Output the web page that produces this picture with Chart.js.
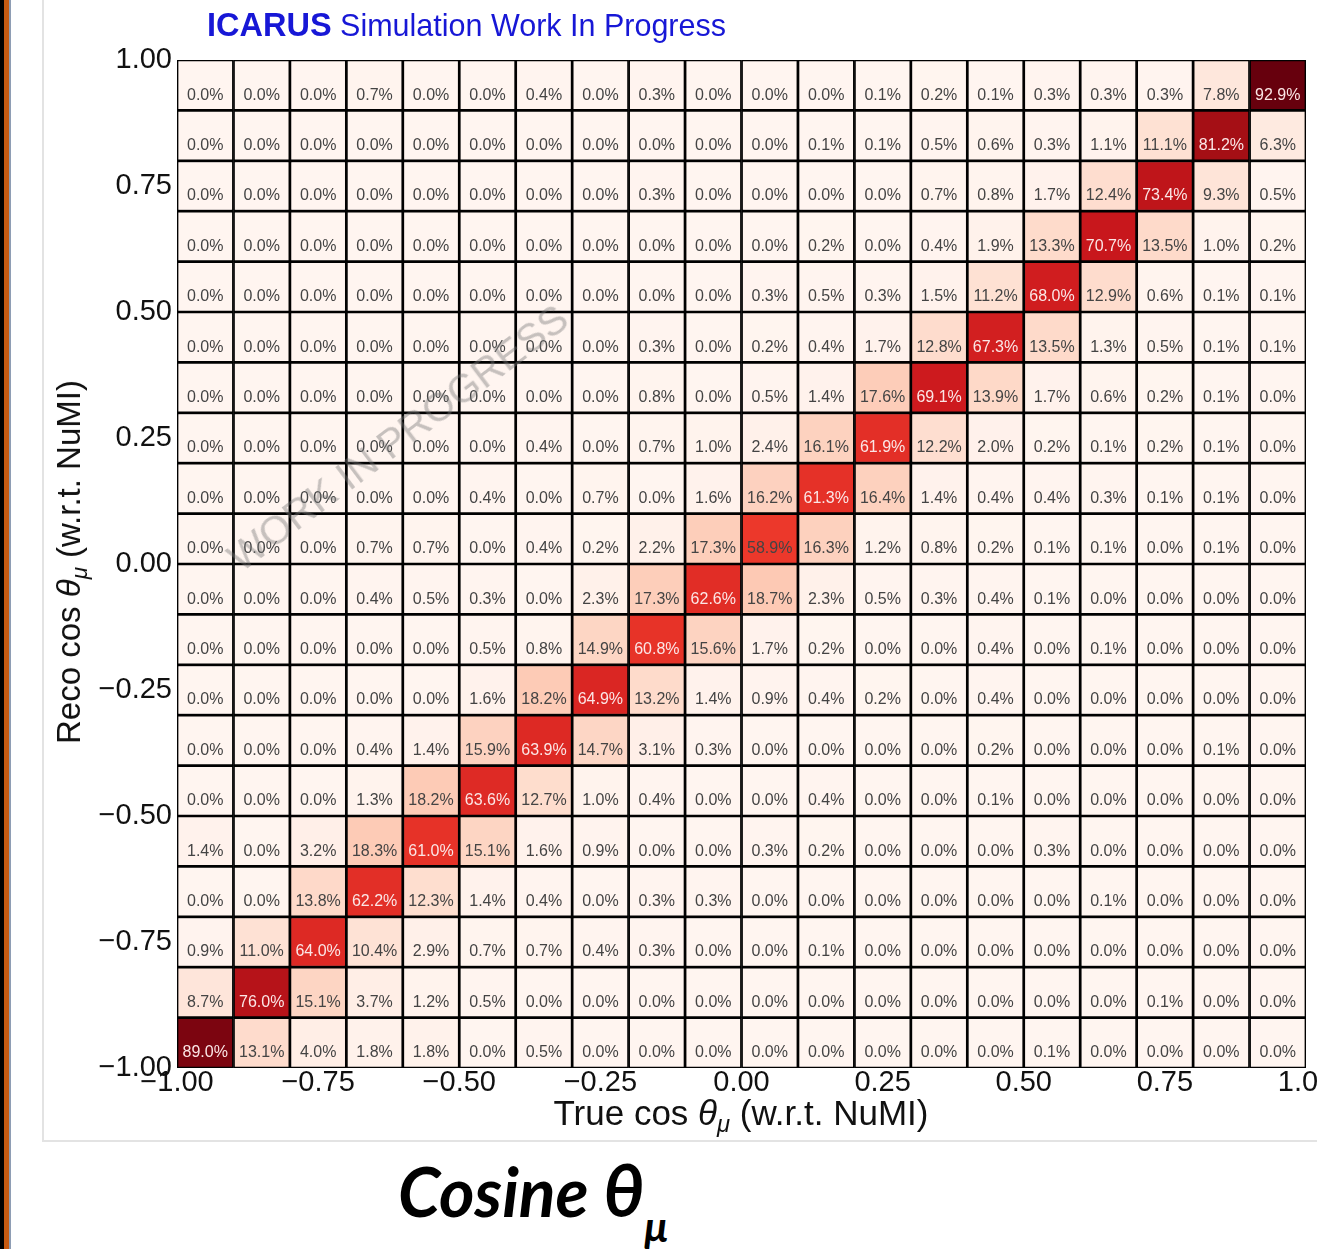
<!DOCTYPE html>
<html>
<head>
<meta charset="utf-8">
<script src="https://cdn.jsdelivr.net/npm/chart.js@4.4.1/dist/chart.umd.min.js"></script>
<style>
  html, body { margin: 0; padding: 0; background: #fff; width: 1317px; height: 1249px; overflow: hidden; }
  body { position: relative; font-family: 'Liberation Sans', Arial, sans-serif; }
  .edge { position: absolute; top: 0; height: 1249px; }
  #panel { position: absolute; left: 42px; top: -2px; width: 1290px; height: 1142px;
           border-left: 2px solid #e3e3e3; border-bottom: 2px solid #e3e3e3; }
  #wrap { position: absolute; left: 0; top: 0; width: 1317px; height: 1142px; }
  #title { position: absolute; left: 207px; top: 10px; font-size: 30.5px; line-height: 30px;
           color: #1717d6; white-space: nowrap; }
  #title b { font-weight: bold; font-size: 32.5px; }
  .axtitle { position: absolute; font-size: 35px; line-height: 34px; color: #111; white-space: nowrap; }
  .axtitle sub { font-size: 0.68em; vertical-align: -0.3em; line-height: 0; }
  #xtitle { left: 741px; top: 1096px; transform: translateX(-50%); }
  #ytitle { left: 69px; top: 562px; font-size: 33px; transform: translate(-50%, -50%) rotate(-90deg); }
  #watermark { position: absolute; left: 398px; top: 438px; font-size: 40px; color: rgba(120,120,120,0.42);
               white-space: nowrap; transform: translate(-50%, -50%) rotate(-37deg); }
  #caption { position: absolute; left: 398px; top: 1158px; font-family: Lato, 'Open Sans', sans-serif;
             font-weight: bold; font-style: italic; font-size: 68px; line-height: 62px; color: #000; white-space: nowrap; }
  #caption .th { font-size: 1.06em; }
  #caption sub { font-size: 0.62em; vertical-align: -0.6em; line-height: 0; }
</style>
</head>
<body>
<div class="edge" style="left:0;width:4px;background:#000"></div>
<div class="edge" style="left:4px;width:5px;background:#c55a11"></div>
<div class="edge" style="left:9px;width:2px;background:#8e9db4"></div>
<div id="panel"></div>
<div id="wrap"><canvas id="migration"></canvas></div>
<div id="title"><b>ICARUS</b> Simulation Work In Progress</div>
<div id="xtitle" class="axtitle">True cos <i>θ</i><sub><i>μ</i></sub> (w.r.t. NuMI)</div>
<div id="ytitle" class="axtitle">Reco cos <i>θ</i><sub><i>μ</i></sub> (w.r.t. NuMI)</div>
<div id="watermark">WORK IN PROGRESS</div>
<div id="caption">Cosine <span class="th">θ</span><sub>μ</sub></div>
<script>
// bin edges shared by true (x) and reco (y) cos theta
const binEdges = [-1.0, -0.9, -0.8, -0.7, -0.6, -0.5, -0.4, -0.3, -0.2, -0.1, 0.0,
                  0.1, 0.2, 0.3, 0.4, 0.5, 0.6, 0.7, 0.8, 0.9, 1.0];
const tickValues = [-1.0, -0.75, -0.5, -0.25, 0.0, 0.25, 0.5, 0.75, 1.0];

// migration percentages, one array per reco bin, columns = true bins (-1 -> 1)
const reco_p95 = [0.0, 0.0, 0.0, 0.7, 0.0, 0.0, 0.4, 0.0, 0.3, 0.0, 0.0, 0.0, 0.1, 0.2, 0.1, 0.3, 0.3, 0.3, 7.8, 92.9];
const reco_p85 = [0.0, 0.0, 0.0, 0.0, 0.0, 0.0, 0.0, 0.0, 0.0, 0.0, 0.0, 0.1, 0.1, 0.5, 0.6, 0.3, 1.1, 11.1, 81.2, 6.3];
const reco_p75 = [0.0, 0.0, 0.0, 0.0, 0.0, 0.0, 0.0, 0.0, 0.3, 0.0, 0.0, 0.0, 0.0, 0.7, 0.8, 1.7, 12.4, 73.4, 9.3, 0.5];
const reco_p65 = [0.0, 0.0, 0.0, 0.0, 0.0, 0.0, 0.0, 0.0, 0.0, 0.0, 0.0, 0.2, 0.0, 0.4, 1.9, 13.3, 70.7, 13.5, 1.0, 0.2];
const reco_p55 = [0.0, 0.0, 0.0, 0.0, 0.0, 0.0, 0.0, 0.0, 0.0, 0.0, 0.3, 0.5, 0.3, 1.5, 11.2, 68.0, 12.9, 0.6, 0.1, 0.1];
const reco_p45 = [0.0, 0.0, 0.0, 0.0, 0.0, 0.0, 0.0, 0.0, 0.3, 0.0, 0.2, 0.4, 1.7, 12.8, 67.3, 13.5, 1.3, 0.5, 0.1, 0.1];
const reco_p35 = [0.0, 0.0, 0.0, 0.0, 0.0, 0.0, 0.0, 0.0, 0.8, 0.0, 0.5, 1.4, 17.6, 69.1, 13.9, 1.7, 0.6, 0.2, 0.1, 0.0];
const reco_p25 = [0.0, 0.0, 0.0, 0.0, 0.0, 0.0, 0.4, 0.0, 0.7, 1.0, 2.4, 16.1, 61.9, 12.2, 2.0, 0.2, 0.1, 0.2, 0.1, 0.0];
const reco_p15 = [0.0, 0.0, 0.0, 0.0, 0.0, 0.4, 0.0, 0.7, 0.0, 1.6, 16.2, 61.3, 16.4, 1.4, 0.4, 0.4, 0.3, 0.1, 0.1, 0.0];
const reco_p05 = [0.0, 0.0, 0.0, 0.7, 0.7, 0.0, 0.4, 0.2, 2.2, 17.3, 58.9, 16.3, 1.2, 0.8, 0.2, 0.1, 0.1, 0.0, 0.1, 0.0];
const reco_m05 = [0.0, 0.0, 0.0, 0.4, 0.5, 0.3, 0.0, 2.3, 17.3, 62.6, 18.7, 2.3, 0.5, 0.3, 0.4, 0.1, 0.0, 0.0, 0.0, 0.0];
const reco_m15 = [0.0, 0.0, 0.0, 0.0, 0.0, 0.5, 0.8, 14.9, 60.8, 15.6, 1.7, 0.2, 0.0, 0.0, 0.4, 0.0, 0.1, 0.0, 0.0, 0.0];
const reco_m25 = [0.0, 0.0, 0.0, 0.0, 0.0, 1.6, 18.2, 64.9, 13.2, 1.4, 0.9, 0.4, 0.2, 0.0, 0.4, 0.0, 0.0, 0.0, 0.0, 0.0];
const reco_m35 = [0.0, 0.0, 0.0, 0.4, 1.4, 15.9, 63.9, 14.7, 3.1, 0.3, 0.0, 0.0, 0.0, 0.0, 0.2, 0.0, 0.0, 0.0, 0.1, 0.0];
const reco_m45 = [0.0, 0.0, 0.0, 1.3, 18.2, 63.6, 12.7, 1.0, 0.4, 0.0, 0.0, 0.4, 0.0, 0.0, 0.1, 0.0, 0.0, 0.0, 0.0, 0.0];
const reco_m55 = [1.4, 0.0, 3.2, 18.3, 61.0, 15.1, 1.6, 0.9, 0.0, 0.0, 0.3, 0.2, 0.0, 0.0, 0.0, 0.3, 0.0, 0.0, 0.0, 0.0];
const reco_m65 = [0.0, 0.0, 13.8, 62.2, 12.3, 1.4, 0.4, 0.0, 0.3, 0.3, 0.0, 0.0, 0.0, 0.0, 0.0, 0.0, 0.1, 0.0, 0.0, 0.0];
const reco_m75 = [0.9, 11.0, 64.0, 10.4, 2.9, 0.7, 0.7, 0.4, 0.3, 0.0, 0.0, 0.1, 0.0, 0.0, 0.0, 0.0, 0.0, 0.0, 0.0, 0.0];
const reco_m85 = [8.7, 76.0, 15.1, 3.7, 1.2, 0.5, 0.0, 0.0, 0.0, 0.0, 0.0, 0.0, 0.0, 0.0, 0.0, 0.0, 0.0, 0.1, 0.0, 0.0];
const reco_m95 = [89.0, 13.1, 4.0, 1.8, 1.8, 0.0, 0.5, 0.0, 0.0, 0.0, 0.0, 0.0, 0.0, 0.0, 0.0, 0.1, 0.0, 0.0, 0.0, 0.0];

// bottom reco bin first, so row index matches binEdges
const recoRows = [reco_m95, reco_m85, reco_m75, reco_m65, reco_m55, reco_m45, reco_m35, reco_m25, reco_m15, reco_m05,
                  reco_p05, reco_p15, reco_p25, reco_p35, reco_p45, reco_p55, reco_p65, reco_p75, reco_p85, reco_p95];

// matplotlib "Reds"
const redsStops = ['#fff5f0', '#fee0d2', '#fcbba1', '#fc9272', '#fb6a4a', '#ef3b2c', '#cb181d', '#a50f15', '#67000d'];
const vmax = Math.max(...recoRows.flat());

function hexToRgb(h) {
    return [parseInt(h.slice(1, 3), 16), parseInt(h.slice(3, 5), 16), parseInt(h.slice(5, 7), 16)];
}

function redsColor(v) {
    const t = Math.min(Math.max(v / vmax, 0), 1) * (redsStops.length - 1);
    const i = Math.min(Math.floor(t), redsStops.length - 2);
    const f = t - i;
    const a = hexToRgb(redsStops[i]);
    const b = hexToRgb(redsStops[i + 1]);
    const c = a.map((x, k) => Math.round(x + (b[k] - x) * f));
    return `rgb(${c[0]},${c[1]},${c[2]})`;
}

// one floating bar per cell
const cells = [];
recoRows.forEach((row, r) => {
    row.forEach((v, c) => {
        cells.push({
            x: (binEdges[c] + binEdges[c + 1]) / 2,
            y: [binEdges[r], binEdges[r + 1]],
            v: v
        });
    });
});

const fmtTick = v => (v < 0 ? '\u2212' : '') + Math.abs(v).toFixed(2);
const tickFont = { family: "'Liberation Sans', Arial, sans-serif", size: 29 };

// percentage text inside each cell
const cellLabels = {
    id: 'cellLabels',
    afterDatasetsDraw(chart) {
        const ctx = chart.ctx;
        const meta = chart.getDatasetMeta(0);
        const data = chart.data.datasets[0].data;
        ctx.save();
        ctx.font = "16px 'Liberation Sans', Arial, sans-serif";
        ctx.textAlign = 'center';
        ctx.textBaseline = 'middle';
        meta.data.forEach((bar, i) => {
            const p = bar.getProps(['x', 'y', 'base'], true);
            const v = data[i].v;
            ctx.fillStyle = v > 60 ? '#fbe6e6' : '#444';
            ctx.fillText(v.toFixed(1) + '%', p.x, (p.y + p.base) / 2 + 10);
        });
        ctx.restore();
    }
};

new Chart(document.getElementById('migration'), {
    type: 'bar',
    data: {
        datasets: [{
            data: cells,
            backgroundColor: ctx => (ctx.raw ? redsColor(ctx.raw.v) : '#fff5f0'),
            borderColor: '#000',
            borderWidth: 1.7,
            borderSkipped: false,
            grouped: false,
            barPercentage: 1,
            categoryPercentage: 1
        }]
    },
    options: {
        responsive: true,
        maintainAspectRatio: false,
        devicePixelRatio: 1,
        animation: false,
        events: [],
        layout: { padding: { left: 0, right: 11, top: 60, bottom: 0 } },
        plugins: {
            legend: { display: false },
            tooltip: { enabled: false }
        },
        scales: {
            x: {
                type: 'linear',
                min: -1,
                max: 1,
                offset: false,
                grid: { display: false, drawTicks: false },
                border: { display: false },
                afterBuildTicks: s => { s.ticks = tickValues.map(v => ({ value: v })); },
                afterFit: s => { s.height = 74; s.paddingLeft = 0; s.paddingRight = 0; },
                ticks: {
                    autoSkip: false,
                    maxRotation: 0,
                    padding: -2,
                    color: '#111',
                    font: tickFont,
                    callback: v => fmtTick(v)
                }
            },
            y: {
                type: 'linear',
                min: -1,
                max: 1,
                beginAtZero: false,
                grid: { display: false, drawTicks: false },
                border: { display: false },
                afterBuildTicks: s => { s.ticks = tickValues.map(v => ({ value: v })); },
                afterFit: s => { s.width = 177; s.paddingTop = 0; s.paddingBottom = 0; },
                ticks: {
                    autoSkip: false,
                    padding: 5,
                    color: '#111',
                    font: tickFont,
                    callback: v => fmtTick(v)
                }
            }
        }
    },
    plugins: [cellLabels]
});
</script>
</body>
</html>
